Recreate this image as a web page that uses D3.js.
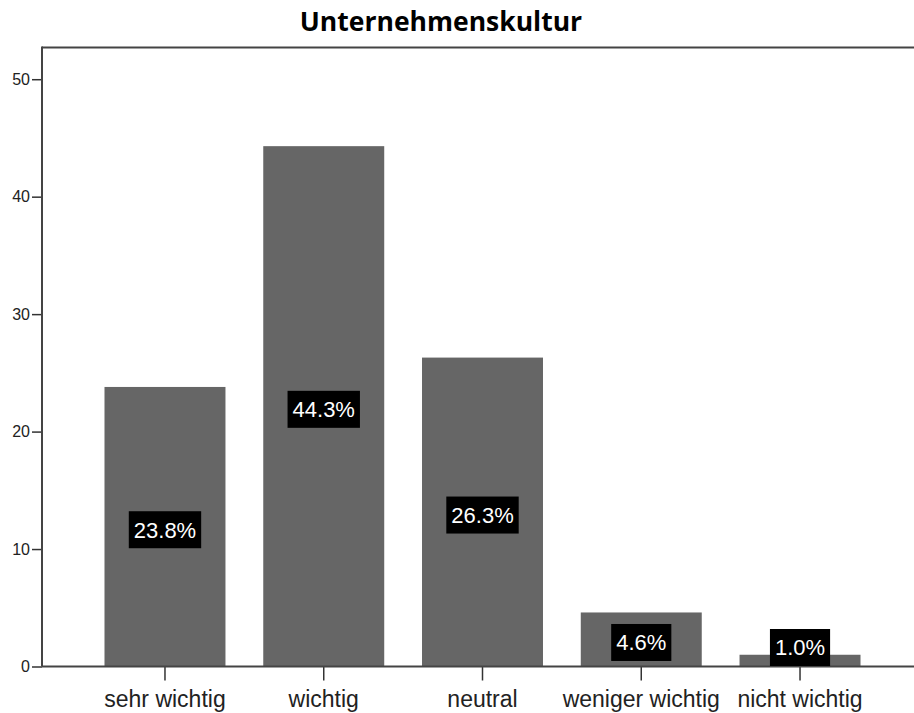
<!DOCTYPE html>
<html>
<head>
<meta charset="utf-8">
<script src="https://cdn.jsdelivr.net/npm/d3@7"></script>
<style>
  body { margin: 0; background: #fff; }
  svg { display: block; }
</style>
</head>
<body>
<svg id="chart" width="914" height="713"></svg>
<script>
const title = "Unternehmenskultur";
const categories = ["sehr wichtig", "wichtig", "neutral", "weniger wichtig", "nicht wichtig"];
const values = [23.8, 44.3, 26.3, 4.6, 1.0];
const valueLabels = ["23.8%", "44.3%", "26.3%", "4.6%", "1.0%"];
const yTicks = [0, 10, 20, 30, 40, 50];

const svg = d3.select("#chart");
const plotLeft = 42, plotRight = 914, plotTop = 47.5, plotBottom = 666.5;

const x = d3.scaleBand()
  .domain(categories)
  .range([85.6, 879.4])
  .paddingInner(0.238)
  .paddingOuter(0.119);

const y = d3.scaleLinear()
  .domain([0, 52.7])
  .range([plotBottom, plotTop]);

// title
svg.append("text")
  .attr("x", 441)
  .attr("y", 31)
  .attr("text-anchor", "middle")
  .attr("font-family", "'Open Sans', 'Noto Sans', sans-serif")
  .attr("font-weight", "bold")
  .attr("font-size", 26.5)
  .attr("fill", "#000")
  .text(title);

// bars
svg.append("g").selectAll("rect")
  .data(values)
  .join("rect")
  .attr("x", (d, i) => x(categories[i]))
  .attr("width", x.bandwidth())
  .attr("y", d => y(d))
  .attr("height", d => y(0) - y(d))
  .attr("fill", "#666666");

// top frame line
svg.append("line")
  .attr("x1", plotLeft).attr("x2", plotRight)
  .attr("y1", plotTop).attr("y2", plotTop)
  .attr("stroke", "#444").attr("stroke-width", 2);

// y axis
const yAxis = svg.append("g")
  .attr("transform", `translate(${plotLeft},0)`)
  .call(d3.axisLeft(y).tickValues(yTicks).tickSize(10).tickPadding(2));
yAxis.select(".domain").remove();
yAxis.selectAll(".tick line").attr("stroke", "#333").attr("stroke-width", 1.5);
yAxis.selectAll(".tick text")
  .attr("font-family", "'Liberation Sans', Arial, sans-serif")
  .attr("font-size", 16)
  .attr("fill", "#222");
svg.append("line")
  .attr("x1", plotLeft).attr("x2", plotLeft)
  .attr("y1", plotTop - 1).attr("y2", plotBottom)
  .attr("stroke", "#444").attr("stroke-width", 2);

// x axis
const xAxis = svg.append("g")
  .attr("transform", `translate(0,${plotBottom})`)
  .call(d3.axisBottom(x).tickSize(14).tickPadding(10));
xAxis.select(".domain").remove();
xAxis.selectAll(".tick line").attr("stroke", "#333").attr("stroke-width", 1.5);
xAxis.selectAll(".tick text")
  .attr("font-family", "'Liberation Sans', Arial, sans-serif")
  .attr("font-size", 23)
  .attr("fill", "#222");
svg.append("line")
  .attr("x1", plotLeft).attr("x2", plotRight)
  .attr("y1", plotBottom).attr("y2", plotBottom)
  .attr("stroke", "#444").attr("stroke-width", 2);

// value labels
const boxH = 37;
const lab = svg.append("g").selectAll("g")
  .data(values)
  .join("g")
  .attr("transform", (d, i) => {
    const cx = x(categories[i]) + x.bandwidth() / 2;
    const mid = (y(d) + y(0)) / 2 + 3;
    const cy = Math.min(mid, y(0) - boxH / 2 - 0.5);
    return `translate(${cx},${cy})`;
  });
lab.append("rect").attr("fill", "#000");
lab.append("text")
  .attr("text-anchor", "middle")
  .attr("dy", "0.36em")
  .attr("font-family", "'Liberation Sans', Arial, sans-serif")
  .attr("font-size", 22)
  .attr("fill", "#fff")
  .text((d, i) => valueLabels[i]);
lab.each(function() {
  const g = d3.select(this);
  const bb = g.select("text").node().getBBox();
  const w = bb.width + 10;
  g.select("rect")
    .attr("x", -w / 2).attr("width", w)
    .attr("y", -boxH / 2).attr("height", boxH);
});
</script>
</body>
</html>
